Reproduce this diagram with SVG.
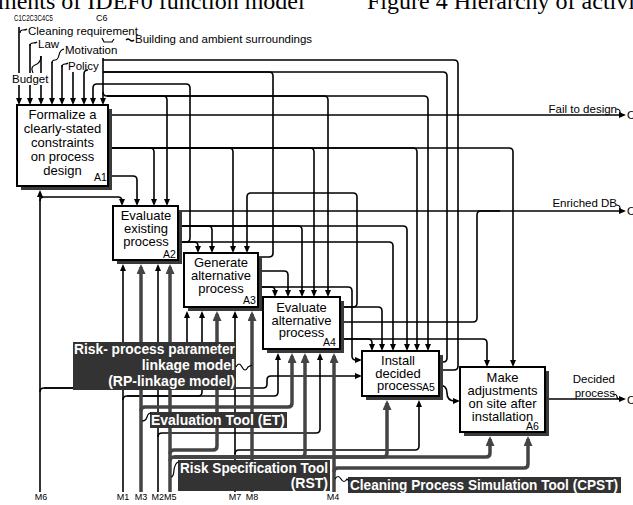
<svg xmlns="http://www.w3.org/2000/svg" width="633" height="505" viewBox="0 0 633 505">
<style>
.t{font-family:"Liberation Sans",Arial,sans-serif;fill:#000}
.bt{font-size:13px;text-anchor:middle}
.an{font-size:10.5px}
.sm{font-size:11.5px}
.ml{font-size:9px;text-anchor:middle}
.ttl{font-family:"Liberation Serif","Times New Roman",serif;font-size:24px;fill:#000}
.box{fill:#fff;stroke:#000;stroke-width:2}
.sh{fill:#3a3a3a}
.c{fill:none;stroke:#000;stroke-width:1.6}
.ca{fill:none;stroke:#000;stroke-width:1.6;marker-end:url(#ah)}
.ka{fill:none;stroke:#444;stroke-width:3.5;marker-end:url(#akh)}
.lb{fill:#333}
.lt{font-family:"Liberation Sans",Arial,sans-serif;font-weight:bold;font-size:14px;fill:#fff}
.sq{fill:none;stroke:#000;stroke-width:1.2}
</style>
<defs>
<marker id="ah" markerUnits="userSpaceOnUse" markerWidth="8" markerHeight="7" refX="5" refY="3" orient="auto"><path d="M0,0 L7,3 L0,6z" fill="#000"/></marker>
<marker id="akh" markerUnits="userSpaceOnUse" markerWidth="11" markerHeight="10" refX="7" refY="4.5" orient="auto"><path d="M0,0 L10,4.5 L0,9z" fill="#444"/></marker>
</defs>
<rect width="633" height="505" fill="#fff"/>
<text class="ttl" x="-2" y="9">ments of IDEF0 function model</text>
<text class="ttl" x="367" y="9">Figure 4 Hierarchy of activi</text>

<g id="connectors">
<path class="ca" d="M19,27V103"/>
<path class="ca" d="M30,44V103"/>
<path class="ca" d="M41,56V103"/>
<path class="ca" d="M52,62V103"/>
<path class="ca" d="M62,65V103"/>
<path class="ca" d="M73,72V103"/>
<path class="ca" d="M88,70Q84,70 84,74V103"/>
<path class="ca" d="M103,58V103"/>
<path class="ca" d="M178,242H186Q190,242 190,238V88Q190,84 186,84H97Q93,84 93,88V103"/>
<path class="c" d="M439,370H454Q458,370 458,366V64Q458,60 454,60H103"/>
<path class="c" d="M439,362H443Q447,362 447,358V76Q447,72 443,72H103"/>
<path class="c" d="M258,257H269Q273,257 273,253V76Q273,72 269,72H103"/>
<path class="ca" d="M103,92Q103,96 107,96H163Q167,96 167,100V204"/>
<path class="ca" d="M107,96H324Q328,96 328,100V295"/>
<path class="ca" d="M107,96H424Q428,96 428,100V349"/>
<path class="ca" d="M108,115H624"/>
<path class="ca" d="M108,148H150Q154,148 154,152V204"/>
<path class="ca" d="M108,148H229Q233,148 233,152V251"/>
<path class="ca" d="M108,148H310Q314,148 314,152V295"/>
<path class="ca" d="M108,148H413Q417,148 417,152V349"/>
<path class="ca" d="M108,148H509Q513,148 513,152V365"/>
<path class="ca" d="M108,176H133Q137,176 137,180V204"/>
<path class="ca" d="M40,492V192"/>
<path class="ca" d="M40,201Q40,197 44,197H118Q122,197 122,201V204"/>
<path class="ca" d="M40,392Q40,388 44,388H183Q187,388 187,384V313"/>
<path class="ca" d="M44,388H263Q267,388 267,384V380Q267,376 271,376H360"/>
<path class="ca" d="M123,492V266"/>
<path class="ca" d="M123,400Q123,396 127,396H198Q202,396 202,392V313"/>
<path class="ca" d="M127,396H274Q278,396 278,392V355"/>
<path class="ca" d="M158,492V266"/>
<path class="ca" d="M158,437Q158,433 162,433H316Q320,433 320,429V355"/>
<path class="ca" d="M235,492V313"/>
<path class="ca" d="M235,454Q235,450 239,450H415Q419,450 419,446V402"/>
<path class="ca" d="M178,211H624"/>
<path class="ca" d="M178,226H208Q212,226 212,230V251"/>
<path class="ca" d="M178,226H298Q302,226 302,230V295"/>
<path class="ca" d="M178,226H403Q407,226 407,230V349"/>
<path class="ca" d="M178,242H194Q198,242 198,246V251"/>
<path class="ca" d="M178,242H389Q393,242 393,246V349"/>
<path class="ca" d="M258,271H284Q288,271 288,275V295"/>
<path class="ca" d="M258,287H271Q275,287 275,291V295"/>
<path class="ca" d="M258,287H348Q352,287 352,291V356Q352,360 356,360H360"/>
<path class="ca" d="M340,307H353Q357,307 357,303V197Q357,193 353,193H251Q247,193 247,197V251"/>
<path class="ca" d="M340,307H378Q382,307 382,311V349"/>
<path class="c" d="M340,322H473Q477,322 477,318V215Q477,211 481,211H500"/>
<path class="ca" d="M340,339H368Q372,339 372,343V349"/>
<path class="ca" d="M340,339H483Q487,339 487,343V365"/>
<path class="ca" d="M439,385Q447,385 447,393Q447,401 455,401H458"/>
<path class="ca" d="M545,399H624"/>
<path class="ka" d="M141,492V267"/>
<path class="ka" d="M141,411Q141,407 145,407H288Q292,407 292,403V356"/>
<path class="ka" d="M170,492V267"/>
<path class="ka" d="M170,454Q170,450 174,450H213Q217,450 217,446V314"/>
<path class="ka" d="M170,461Q170,457 174,457H301Q305,457 305,453V356"/>
<path class="ka" d="M174,457H383Q387,457 387,453V403"/>
<path class="ka" d="M174,457H486Q490,457 490,453V439"/>
<path class="ka" d="M252,492V314"/>
<path class="ka" d="M334,492V356"/>
<path class="ka" d="M334,472Q334,468 338,468H524Q528,468 528,464V439"/>
<path class="sq" d="M20,33q0,-3 3,-3q3,0 4,-1"/>
<path class="sq" d="M30,46q0,-3 3,-3q3,0 4,-1"/>
<path class="sq" d="M33,73q-3,-6 2,-8q6,-2 6,-9"/>
<path class="sq" d="M52,63q0,-3 3,-3q3,0 4,-5q1,-5 5,-6"/>
<path class="sq" d="M62,67q0,-3 3,-3q2,0 3,-1"/>
<path class="sq" d="M102,38L104,42H112L114,39"/>
<path class="sq" d="M126,40q2,-2 4,0q2,2 4,0"/>
<path class="sq" d="M616,109q4,0 4,3q0,3 3,3"/>
<path class="sq" d="M616,205q4,0 4,3q0,3 3,3"/>
<path class="sq" d="M613,394q4,0 4,3q0,2 3,2"/>
</g>

<text class="t sm" x="28" y="35">Cleaning requirement</text>
<text class="t sm" x="38" y="48">Law</text>
<text class="t sm" x="65" y="54">Motivation</text>
<text class="t sm" x="68" y="70">Policy</text>
<rect x="11" y="73" width="36" height="12" fill="#fff"/>
<text class="t sm" x="12" y="83">Budget</text>
<text class="t sm" x="135" y="43">Building and ambient surroundings</text>
<text class="t" font-size="9" x="14" y="21" textLength="39" lengthAdjust="spacingAndGlyphs">C1C2C3C4C5</text>
<text class="t" font-size="9" x="96" y="21">C6</text>
<text class="t sm" x="617" y="113" text-anchor="end">Fail to design</text>
<text class="t sm" x="617" y="207" text-anchor="end">Enriched DB</text>
<text class="t sm" x="615" y="383" text-anchor="end">Decided</text>
<text class="t sm" x="615" y="397" text-anchor="end">process</text>
<text class="t sm" x="627" y="119">O</text>
<text class="t sm" x="627" y="215">O</text>
<text class="t sm" x="627" y="404">O</text>
<text class="t ml" x="41" y="500">M6</text>
<text class="t ml" x="123" y="500">M1</text>
<text class="t ml" x="141" y="500">M3</text>
<text class="t ml" x="164" y="500">M2M5</text>
<text class="t ml" x="235" y="500">M7</text>
<text class="t ml" x="252" y="500">M8</text>
<text class="t ml" x="333" y="500">M4</text>

<g id="A1"><rect class="sh" x="21" y="109" width="91" height="81"/><rect class="box" x="17" y="105" width="91" height="81"/>
<text class="t bt" x="62.5" y="119">Formalize a</text><text class="t bt" x="62.5" y="133">clearly-stated</text><text class="t bt" x="62.5" y="147">constraints</text><text class="t bt" x="62.5" y="161">on process</text><text class="t bt" x="62.5" y="175">design</text><text class="t an" x="94" y="181">A1</text></g>
<g id="A2"><rect class="sh" x="117" y="210" width="65" height="54"/><rect class="box" x="113" y="206" width="65" height="54"/>
<text class="t bt" x="146" y="220">Evaluate</text><text class="t bt" x="146" y="233">existing</text><text class="t bt" x="146" y="246">process</text><text class="t an" x="163" y="258">A2</text></g>
<g id="A3"><rect class="sh" x="188" y="257" width="74" height="54"/><rect class="box" x="184" y="253" width="74" height="54"/>
<text class="t bt" x="221" y="267">Generate</text><text class="t bt" x="221" y="280">alternative</text><text class="t bt" x="221" y="293">process</text><text class="t an" x="243" y="304">A3</text></g>
<g id="A4"><rect class="sh" x="267" y="301" width="77" height="52"/><rect class="box" x="263" y="297" width="77" height="52"/>
<text class="t bt" x="301.5" y="312">Evaluate</text><text class="t bt" x="301.5" y="325">alternative</text><text class="t bt" x="301.5" y="337">process</text><text class="t an" x="323" y="346">A4</text></g>
<g id="A5"><rect class="sh" x="366" y="355" width="77" height="45"/><rect class="box" x="362" y="351" width="77" height="45"/>
<text class="t bt" x="398" y="365">Install</text><text class="t bt" x="398" y="378">decided</text><text class="t" font-size="13" x="377" y="390">process</text><text class="t an" x="422" y="391">A5</text></g>
<g id="A6"><rect class="sh" x="464" y="371" width="85" height="65"/><rect class="box" x="460" y="367" width="85" height="65"/>
<text class="t bt" x="502.5" y="382">Make</text><text class="t bt" x="502.5" y="395">adjustments</text><text class="t bt" x="502.5" y="408">on site after</text><text class="t bt" x="502.5" y="421">installation</text><text class="t an" x="526" y="430">A6</text></g>

<g id="RP"><rect class="lb" x="73" y="342" width="163" height="48"/>
<text class="lt" x="235" y="354" text-anchor="end" textLength="161" lengthAdjust="spacingAndGlyphs">Risk- process parameter</text>
<text class="lt" x="235" y="370" text-anchor="end">linkage model</text>
<text class="lt" x="235" y="386" text-anchor="end">(RP-linkage model)</text>
<path class="sq" d="M236,367q3,-6 6,0q3,6 6,0L252,365"/></g>
<g id="ET"><rect class="lb" x="150" y="412" width="137" height="16"/>
<text class="lt" x="151" y="425" textLength="134" lengthAdjust="spacingAndGlyphs">Evaluation Tool (ET)</text>
<path class="sq" d="M142,421q4,0 5,-4q1,-4 4,-4"/></g>
<g id="RST"><rect class="lb" x="178" y="460" width="152" height="31"/>
<text class="lt" x="180" y="473" textLength="148" lengthAdjust="spacingAndGlyphs">Risk Specification Tool</text>
<text class="lt" x="328" y="488" text-anchor="end">(RST)</text>
<path class="sq" d="M171,477c4,0 2,-8 4,-11c1,-3 3,-4 4,-4"/></g>
<g id="CPST"><rect class="lb" x="348" y="477" width="273" height="16"/>
<text class="lt" x="350" y="490" textLength="268" lengthAdjust="spacingAndGlyphs">Cleaning Process Simulation Tool (CPST)</text>
<path class="sq" d="M335,479q3,-5 6,0q3,5 6,0L349,481"/></g>
</svg>
